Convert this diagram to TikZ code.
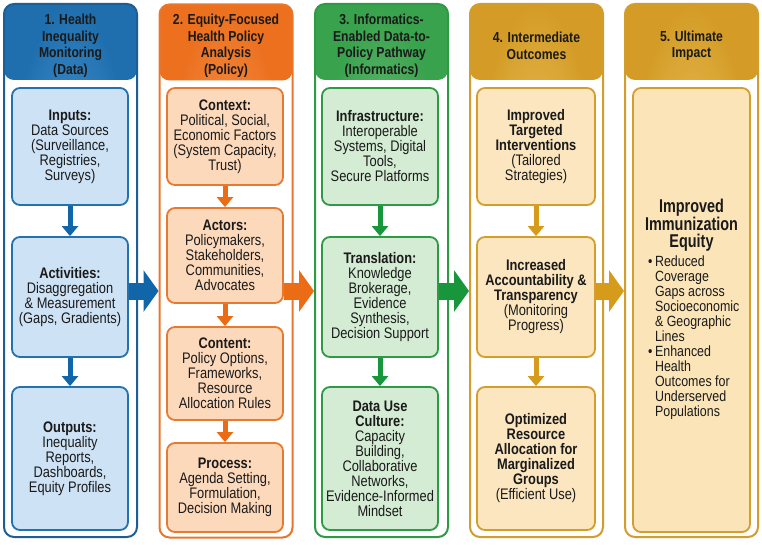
\documentclass[tikz,border=0pt]{standalone}
\usepackage{fontspec}
\setmainfont{Liberation Sans}[FakeStretch=0.84]
\newfontfamily\titlefont{Liberation Sans}[FakeStretch=0.78]
\usetikzlibrary{arrows.meta}
\definecolor{txt}{HTML}{1A1A1A}
\definecolor{bBord}{HTML}{1D5F94}
\definecolor{bHin}{HTML}{5AA3DC}
\definecolor{bHout}{HTML}{1F6FAF}
\definecolor{bFill}{HTML}{CDE2F4}
\definecolor{bIB}{HTML}{2371AD}
\definecolor{bArr}{HTML}{1066A9}
\definecolor{oBord}{HTML}{E8772C}
\definecolor{oHin}{HTML}{F8A469}
\definecolor{oHout}{HTML}{EC701E}
\definecolor{oFill}{HTML}{FDD9BC}
\definecolor{oIB}{HTML}{E77A30}
\definecolor{oArr}{HTML}{EC6B15}
\definecolor{gBord}{HTML}{2E9A45}
\definecolor{gHin}{HTML}{84CC8A}
\definecolor{gHout}{HTML}{38A24C}
\definecolor{gFill}{HTML}{D3ECD3}
\definecolor{gIB}{HTML}{2F9A46}
\definecolor{gArr}{HTML}{17963B}
\definecolor{yBord}{HTML}{D19D2C}
\definecolor{yHin}{HTML}{F3CF72}
\definecolor{yHout}{HTML}{D49C26}
\definecolor{yFill}{HTML}{FBE6BF}
\definecolor{yFillB}{HTML}{FBE4B8}
\definecolor{yIB}{HTML}{D49E2D}
\definecolor{yArr}{HTML}{D69B1B}
\begin{document}
\begin{tikzpicture}[x=1pt,y=-1pt,
  colbox/.style={draw, line width=2pt, rounded corners=10pt, fill=white,
    minimum width=133pt, minimum height=533pt, inner sep=0pt},
  hshade/.style 2 args={path picture={\shade[inner color=#1, outer color=#2]
    (path picture bounding box.north west) rectangle ([yshift=-76pt]path picture bounding box.north east);}},
  htext/.style={font=\bfseries\fontsize{14.5}{16.5}\selectfont, align=center, text=txt},
  ibox/.style={draw, line width=1.8pt, rounded corners=8pt, minimum width=116pt,
    inner sep=2pt, align=center, text=txt, font=\fontsize{15.3}{15}\selectfont},
  bigarrow/.style={line width=17pt, -{Triangle[width=41pt,length=15pt]}},
  smallarrow/.style={line width=5pt, -{Triangle[width=16pt,length=10pt]}}
]
\useasboundingbox[fill=white] (0,0) rectangle (762,545);

% columns
\node[colbox, draw=bBord, hshade={bHin}{bHout}] (c1) at (70.5,270.5) {};
\node[colbox, draw=oBord, hshade={oHin}{oHout}] (c2) at (226,271) {};
\node[colbox, draw=gBord, hshade={gHin}{gHout}] (c3) at (381.5,270.5) {};
\node[colbox, draw=yBord, hshade={yHin}{yHout}] (c4) at (536.5,270.5) {};
\node[colbox, draw=yBord, hshade={yHin}{yHout}] (c5) at (691.5,270.5) {};

% headers
\node[htext] (h1) at (70.5,46) {1. Health\\Inequality\\Monitoring\\(Data)};
\node[htext] (h2) at (226,46) {2. Equity-Focused\\Health Policy\\Analysis\\(Policy)};
\node[htext] (h3) at (381.5,46) {3. Informatics-\\Enabled Data-to-\\Policy Pathway\\(Informatics)};
\node[htext] (h4) at (536.5,46) {4. Intermediate\\Outcomes};
\node[htext] (h5) at (691.5,46) {5. Ultimate\\Impact};

% column 1
\node[ibox, draw=bIB, fill=bFill, minimum height=117pt] (a1) at (70,146.5)
  {\textbf{Inputs:}\\Data Sources\\(Surveillance,\\Registries,\\Surveys)};
\node[ibox, draw=bIB, fill=bFill, minimum height=120pt] (a2) at (70,297)
  {\textbf{Activities:}\\Disaggregation\\\& Measurement\\(Gaps, Gradients)};
\node[ibox, draw=bIB, fill=bFill, minimum height=143pt] (a3) at (70,458.5)
  {\textbf{Outputs:}\\Inequality\\Reports,\\Dashboards,\\Equity Profiles};

% column 2
\node[ibox, draw=oIB, fill=oFill, minimum height=97pt] (b1) at (225,136.5)
  {\textbf{Context:}\\Political, Social,\\Economic Factors\\(System Capacity,\\Trust)};
\node[ibox, draw=oIB, fill=oFill, minimum height=95pt] (b2) at (225,255.5)
  {\textbf{Actors:}\\Policymakers,\\Stakeholders,\\Communities,\\Advocates};
\node[ibox, draw=oIB, fill=oFill, minimum height=93pt] (b3) at (225,373.5)
  {\textbf{Content:}\\Policy Options,\\Frameworks,\\Resource\\Allocation Rules};
\node[ibox, draw=oIB, fill=oFill, minimum height=89pt] (b4) at (225,487.5)
  {\textbf{Process:}\\Agenda Setting,\\Formulation,\\Decision Making};

% column 3
\node[ibox, draw=gIB, fill=gFill, minimum height=117pt] (g1) at (380,146.5)
  {\textbf{Infrastructure:}\\Interoperable\\Systems, Digital\\Tools,\\Secure Platforms};
\node[ibox, draw=gIB, fill=gFill, minimum height=120pt] (g2) at (380,297)
  {\textbf{Translation:}\\Knowledge\\Brokerage,\\Evidence\\Synthesis,\\Decision Support};
\node[ibox, draw=gIB, fill=gFill, minimum height=143pt] (g3) at (380,458.5)
  {\textbf{Data Use}\\\textbf{Culture:}\\Capacity\\Building,\\Collaborative\\Networks,\\Evidence-Informed\\Mindset};

% column 4
\node[ibox, draw=yIB, fill=yFill, minimum height=117pt, minimum width=118pt] (y1) at (536,146.5)
  {\textbf{Improved}\\\textbf{Targeted}\\\textbf{Interventions}\\(Tailored\\Strategies)};
\node[ibox, draw=yIB, fill=yFill, minimum height=120pt, minimum width=118pt] (y2) at (536,297)
  {\textbf{Increased}\\\textbf{Accountability \&}\\\textbf{Transparency}\\(Monitoring\\Progress)};
\node[ibox, draw=yIB, fill=yFill, minimum height=143pt, minimum width=118pt] (y3) at (536,458.5)
  {\textbf{Optimized}\\\textbf{Resource}\\\textbf{Allocation for}\\\textbf{Marginalized}\\\textbf{Groups}\\(Efficient Use)};

% column 5
\node[ibox, draw=yIB, fill=yFillB, minimum height=444pt, minimum width=117pt] (u1) at (691.5,310) {};
\node[font=\titlefont\bfseries\fontsize{18.5}{17}\selectfont, align=center, text=txt, inner sep=1pt] (t5) at (691.5,225)
  {Improved\\Immunization\\Equity};
\node[anchor=north west, inner sep=0pt, text=txt, font=\fontsize{14.8}{14.5}\selectfont] (l5) at (648,256)
  {\begin{tabular}{@{}l@{\hspace{2.5pt}}l@{}}
   \textbullet & Reduced\\
   & Coverage\\
   & Gaps across\\
   & Socioeconomic\\
   & \& Geographic\\
   & Lines\\
   \textbullet & Enhanced\\
   & Health\\
   & Outcomes for\\
   & Underserved\\
   & Populations
  \end{tabular}};

% inner arrows
\draw[smallarrow, bArr] (a1.south) -- (a2.north);
\draw[smallarrow, bArr] (a2.south) -- (a3.north);
\draw[smallarrow, oArr] (b1.south) -- (b2.north);
\draw[smallarrow, oArr] (b2.south) -- (b3.north);
\draw[smallarrow, oArr] (b3.south) -- (b4.north);
\draw[smallarrow, gArr] (g1.south) -- (g2.north);
\draw[smallarrow, gArr] (g2.south) -- (g3.north);
\draw[smallarrow, yArr] (y1.south) -- (y2.north);
\draw[smallarrow, yArr] (y2.south) -- (y3.north);

% big arrows between columns
\coordinate (ay) at (0,291);
\draw[bigarrow, bArr] (a2.east |- ay) -- (c2.west |- ay);
\draw[bigarrow, oArr] (b2.east |- ay) -- (c3.west |- ay);
\draw[bigarrow, gArr] (g2.east |- ay) -- (c4.west |- ay);
\draw[bigarrow, yArr] (y2.east |- ay) -- (c5.west |- ay);
\end{tikzpicture}
\end{document}
